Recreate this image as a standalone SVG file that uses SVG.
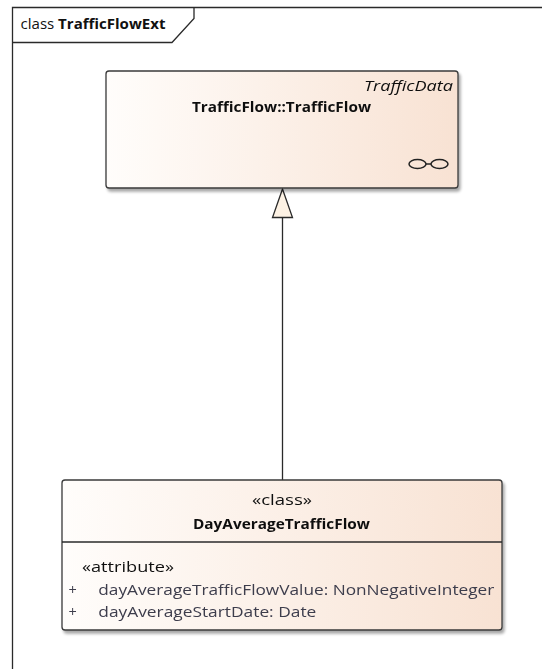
<svg xmlns="http://www.w3.org/2000/svg" width="542" height="669" viewBox="0 0 542 669">
<defs>
<linearGradient id="fill" x1="0" y1="0" x2="1" y2="0">
<stop offset="0" stop-color="#fffdfb"/>
<stop offset="1" stop-color="#f8e2d3"/>
</linearGradient>
<filter id="sh" x="-5%" y="-5%" width="115%" height="120%">
<feGaussianBlur in="SourceAlpha" stdDeviation="1.5"/>
<feOffset dx="2" dy="2.5" result="b"/>
<feComponentTransfer><feFuncA type="linear" slope="0.35"/></feComponentTransfer>
<feMerge><feMergeNode/><feMergeNode in="SourceGraphic"/></feMerge>
</filter>
</defs>
<style>
.box{fill:url(#fill);stroke:#3a3a3a;stroke-width:1.3}
.t{font-family:"Open Sans","Noto Sans","Liberation Sans",sans-serif;fill:#111}
.b{font-weight:bold}
.a{fill:#3c3c4c}
.ln{stroke:#2a2a2a;stroke-width:1.3;fill:none}
</style>
<rect width="542" height="669" fill="#ffffff"/>
<g id="frame">
<path class="ln" d="M12.5,669 V7.5 H542"/>
<path class="ln" d="M12.5,42.5 H172 L194,18.5 V7.5"/>
<text class="t" x="20.5" y="29" font-size="14.5" textLength="145" lengthAdjust="spacingAndGlyphs">class <tspan class="b">TrafficFlowExt</tspan></text>
</g>
<g id="connectors">
<line class="ln" x1="282.5" y1="217.5" x2="282.5" y2="480"/>
<polygon points="282.5,189 272.5,217.5 292.5,217.5" fill="#fdf2e4" stroke="#2a2a2a" stroke-width="1.3"/>
</g>
<g id="TrafficFlow" filter="url(#sh)">
<rect class="box" x="106" y="71" width="352" height="117" rx="3"/>
<text class="t" x="453" y="91" font-size="14" font-style="italic" text-anchor="end" textLength="89" lengthAdjust="spacingAndGlyphs" fill="#333">TrafficData</text>
<text class="t b" x="192" y="111.5" font-size="14" textLength="179" lengthAdjust="spacingAndGlyphs">TrafficFlow::TrafficFlow</text>
<ellipse cx="417.5" cy="164" rx="8.5" ry="4.5" fill="none" stroke="#222" stroke-width="1.5"/>
<ellipse cx="439.5" cy="164" rx="8.5" ry="4.5" fill="none" stroke="#222" stroke-width="1.5"/>
<line x1="426" y1="164" x2="431" y2="164" stroke="#222" stroke-width="1.5"/>
</g>
<g id="DayAverageTrafficFlow" filter="url(#sh)">
<rect class="box" x="62" y="480" width="440" height="150" rx="3"/>
<line class="ln" x1="62" y1="542" x2="502" y2="542"/>
<text class="t" x="252" y="505" font-size="14" textLength="60" lengthAdjust="spacingAndGlyphs">«class»</text>
<text class="t b" x="193" y="528.5" font-size="14" textLength="177" lengthAdjust="spacingAndGlyphs">DayAverageTrafficFlow</text>
<text class="t" x="82" y="572" font-size="14.5" textLength="92" lengthAdjust="spacingAndGlyphs">«attribute»</text>
<text class="t a" x="68.5" y="594.5" font-size="14.5">+</text>
<text class="t a" x="98.3" y="594.5" font-size="14.5" textLength="396" lengthAdjust="spacingAndGlyphs">dayAverageTrafficFlowValue: NonNegativeInteger</text>
<text class="t a" x="68.5" y="617" font-size="14.5">+</text>
<text class="t a" x="98.3" y="617" font-size="14.5" textLength="218" lengthAdjust="spacingAndGlyphs">dayAverageStartDate: Date</text>
</g>
</svg>
